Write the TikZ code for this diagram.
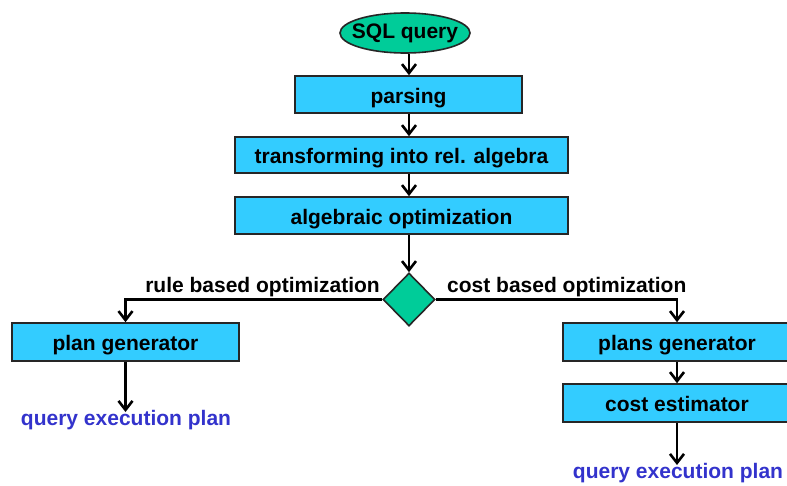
\documentclass[tikz,border=0pt]{standalone}
\usepackage{fontspec}
\setmainfont{Liberation Sans}
\usetikzlibrary{shapes.geometric,arrows.meta}
\definecolor{boxcyan}{HTML}{33CCFF}
\definecolor{decgreen}{HTML}{00CC99}
\definecolor{outblue}{HTML}{3333CC}
\definecolor{edge}{HTML}{262626}
\begin{document}
\begin{tikzpicture}[x=1pt,y=-1pt,
  every node/.style={font=\fontsize{21}{25}\selectfont\bfseries},
  stepbox/.style={draw=edge,line width=1.6pt,fill=boxcyan,rectangle,inner sep=0pt,
    text height=17pt,text depth=0pt},
  flow/.style={line width=2.8pt,-{Straight Barb[length=9pt,width=14pt,line width=2.6pt]}},
  outtext/.style={text=outblue,inner sep=0pt,anchor=base},
  lbl/.style={inner sep=0pt}]
\useasboundingbox (0,0) rectangle (787,485);
\clip (0,0) rectangle (787,485);

% main chain
\node[ellipse,draw=edge,line width=1.6pt,fill=decgreen,minimum width=130pt,minimum height=40pt,
  inner sep=0pt,text height=11pt,text depth=0pt] (sql) at (405,33) {\makebox[80pt]{SQL query}};
\node[stepbox,minimum width=227pt,minimum height=37pt] (parse) at (408.5,94.5) {parsing};
\node[stepbox,minimum width=333pt,minimum height=36pt] (trans) at (401.5,155) {transforming into rel. algebra};
\node[stepbox,minimum width=333pt,minimum height=37pt] (alg) at (401.5,215.5) {algebraic optimization};
\node[diamond,draw=edge,line width=1.6pt,fill=decgreen,minimum width=52pt,minimum height=53pt,inner sep=0pt] (dec) at (409,299.5) {};

% branches
\node[stepbox,minimum width=227pt,minimum height=38pt] (plan) at (125.5,342) {plan generator};
\node[stepbox,minimum width=228pt,minimum height=38pt] (plans) at (677,342) {plans generator};
\node[stepbox,minimum width=228pt,minimum height=38pt] (est) at (677,403) {cost estimator};

\node[lbl,anchor=base east] (rule) at (380,292) {rule based optimization};
\node[lbl,anchor=base west] (cost) at (447,292) {cost based optimization};

\node[outtext] (out1) at (126,425) {query execution plan};
\node[outtext] (out2) at (678,478) {query execution plan};
\coordinate (end1) at (125.5,412);
\coordinate (end2) at (677,465);

% connectors
\draw[flow] (sql.south -| dec) -- (parse.north -| dec);
\draw[flow] (parse.south -| dec) -- (trans.north -| dec);
\draw[flow] (trans.south -| dec) -- (alg.north -| dec);
\draw[flow] (alg.south -| dec) -- (dec.north);
\draw[flow] (dec.west) -| (plan.north);
\draw[flow] (dec.east) -| (plans.north);
\draw[flow] (plans.south) -- (est.north);
\draw[flow] (plan.south) -- (end1);
\draw[flow] (est.south) -- (end2);
\end{tikzpicture}
\end{document}
